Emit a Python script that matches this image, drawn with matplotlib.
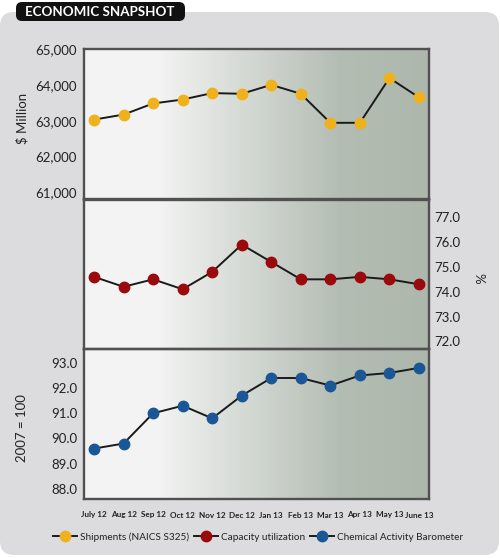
import matplotlib
matplotlib.use("Agg")
import matplotlib.pyplot as plt
import numpy as np
from matplotlib.colors import LinearSegmentedColormap
from matplotlib.patches import FancyBboxPatch
from matplotlib.lines import Line2D

plt.rcParams['font.family'] = ['Lato', 'DejaVu Sans']

months = ["July 12", "Aug 12", "Sep 12", "Oct 12", "Nov 12", "Dec 12",
          "Jan 13", "Feb 13", "Mar 13", "Apr 13", "May 13", "June 13"]
shipments = [63030, 63170, 63480, 63590, 63770, 63750,
             64000, 63750, 62940, 62940, 64190, 63650]
capacity = [74.6, 74.2, 74.5, 74.1, 74.8, 75.9,
            75.2, 74.5, 74.5, 74.6, 74.5, 74.3]
cab = [89.6, 89.8, 91.0, 91.3, 90.8, 91.7,
       92.4, 92.4, 92.1, 92.5, 92.6, 92.8]

W, H = 500, 558
fig = plt.figure(figsize=(W / 100, H / 100), dpi=100)

# ---- background: grey card, header tag, gradient plot area
bg = fig.add_axes([0, 0, 1, 1])
bg.set_xlim(0, W)
bg.set_ylim(H, 0)
bg.axis('off')
bg.add_patch(FancyBboxPatch((0, 12), 499, 543, boxstyle="round,pad=0,rounding_size=14",
                            fc='#dcdcde', ec='none'))
bg.add_patch(FancyBboxPatch((16, 2), 169, 19, boxstyle="round,pad=0,rounding_size=6",
                            fc='#111111', ec='none'))
bg.text(100, 11.8, "ECONOMIC SNAPSHOT", color='white', fontsize=9.6, fontweight='bold',
        ha='center', va='center')

L, R, T, B = 84, 429, 49, 499
cmap = LinearSegmentedColormap.from_list(
    "g", [(0, '#f4f4f4'), ((160 - L) / (R - L), '#f2f3f2'),
          ((340 - L) / (R - L), '#b4bdb3'), (1, '#adb7ac')])
bg.imshow(np.linspace(0, 1, 300)[None, :], cmap=cmap, aspect='auto',
          extent=(L, R, B, T), zorder=1)

def pan(top, bot):
    return [L / W, 1 - bot / H, (R - L) / W, (bot - top) / H]

axes_specs = [
    (pan(49, 199.5), shipments, '#efb21c', (60800, 64900), [61000, 62000, 63000, 64000, 65000]),
    (pan(199.5, 349), capacity, '#9a0a0c', (71.69, 77.72), [72, 73, 74, 75, 76, 77]),
    (pan(349, 499), cab, '#1b5796', (87.6, 93.55), [88, 89, 90, 91, 92, 93]),
]

x = np.arange(len(months))
axs = []
for rect, vals, col, lim, ticks in axes_specs:
    ax = fig.add_axes(rect)
    ax.patch.set_alpha(0)
    ax.plot(x, vals, color='#1a1a1a', lw=1.4, marker='o', ms=7.5,
            mfc=col, mec=col, zorder=3, clip_on=False)
    ax.set_xlim(-0.34, 11.34)
    ax.set_ylim(*lim)
    ax.set_yticks(ticks)
    ax.set_xticks([])
    ax.tick_params(axis='y', length=0, labelsize=9.5, colors='#222222', pad=5)
    for s in ax.spines.values():
        s.set_color('#505050')
        s.set_linewidth(1.7)
    axs.append(ax)

axs[0].set_yticklabels([f"{t:,}" for t in axes_specs[0][4]])
axs[1].yaxis.tick_right()
axs[1].tick_params(axis='y', pad=4)
axs[1].set_yticklabels([f"{t:.1f}" for t in axes_specs[1][4]])
axs[2].set_yticklabels([f"{t:.1f}" for t in axes_specs[2][4]])

axs[2].set_xticks(x)
axs[2].set_xticklabels(months, fontsize=5.9, fontweight='bold', color='#222222')
axs[2].tick_params(axis='x', length=0, pad=9)

fig.text(22 / W, 1 - 118 / H, "$ Million", rotation=90, ha='center', va='center',
         fontsize=9.5, color='#222222')
fig.text(22 / W, 1 - 428 / H, "2007 = 100", rotation=90, ha='center', va='center',
         fontsize=9.5, color='#222222')
fig.text(478 / W, 1 - 278 / H, "%", rotation=-90, ha='center', va='center',
         fontsize=9.5, color='#222222')

labels = ["Shipments (NAICS S325)", "Capacity utilization", "Chemical Activity Barometer"]
handles = [Line2D([], [], color='#1a1a1a', lw=1.4, marker='o', ms=7.5, mfc=c, mec=c)
           for c in ['#efb21c', '#9a0a0c', '#1b5796']]
fig.legend(handles, labels, loc='center', bbox_to_anchor=(258 / W, 1 - 537 / H), ncol=3,
           frameon=False, fontsize=7.2, handlelength=2.4, handletextpad=0.3,
           columnspacing=0.5, labelcolor='#222222')

fig.savefig("out.png", dpi=100)
